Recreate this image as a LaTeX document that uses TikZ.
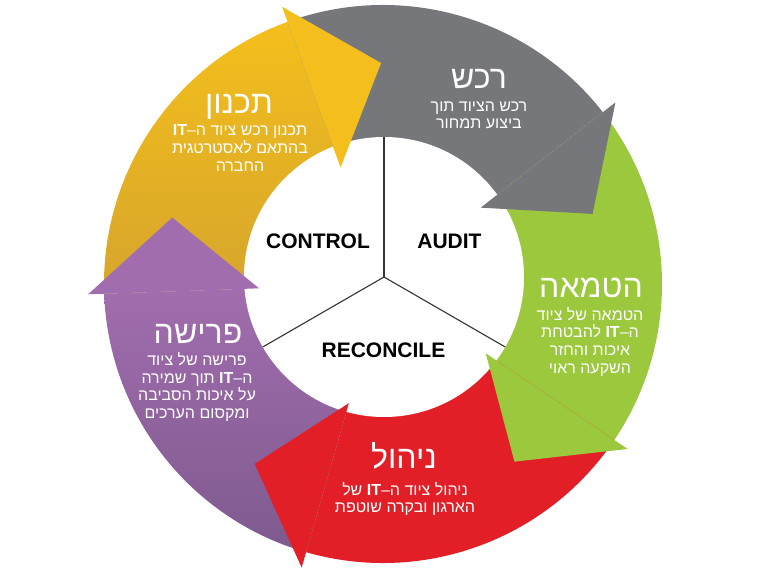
\documentclass[tikz,border=0pt]{standalone}
\usepackage{fontspec}
\setmainfont{Liberation Sans}
\newfontfamily\hebfont[Script=Hebrew]{Liberation Sans}
\TeXXeTstate=1
\definecolor{tichnun}{HTML}{F4BF1C}
\definecolor{tichnunosc}{HTML}{D6A52C}
\definecolor{rekesh}{HTML}{76777A}
\definecolor{hatmaa}{HTML}{9BC83C}
\definecolor{nihul}{HTML}{E21F27}
\definecolor{prisha}{HTML}{A16DAE}
\definecolor{prishaosc}{HTML}{7E5A8E}
\definecolor{linea}{HTML}{333333}
\newcommand{\heb}[1]{\beginR #1\endR}
\newcommand{\lat}[1]{\beginL\textbf{#1}\endL}
\tikzset{
  etapatit/.style={font=\hebfont\fontsize{32}{34}\selectfont, text=white, anchor=base, inner sep=0pt},
  etapatxt/.style={font=\hebfont\fontsize{16}{17.6}\selectfont, text=white, align=center, inner sep=0pt},
  sector/.style={font=\bfseries\fontsize{21}{24}\selectfont, text=black, inner sep=0pt},
  divisor/.style={draw=linea, line width=1.1pt},
  centro/.style={circle, fill=white, minimum size=280pt, inner sep=0pt, outer sep=0pt}
}

\begin{document}
\begin{tikzpicture}[x=1pt, y=1pt]
  \useasboundingbox (-383,-292) rectangle (385,284);
  % bandas del anillo
  \shade[top color=tichnun, middle color=tichnun, bottom color=tichnunosc] (182:279) arc[start angle=182, end angle=110, radius=279] -- (110:130) arc[start angle=110, end angle=182, radius=130] -- cycle;
  \fill[rekesh] (110:279) arc[start angle=110, end angle=38, radius=279] -- (38:130) arc[start angle=38, end angle=110, radius=130] -- cycle;
  \fill[hatmaa] (38:279) arc[start angle=38, end angle=-34, radius=279] -- (-34:130) arc[start angle=-34, end angle=38, radius=130] -- cycle;
  \fill[nihul] (-34:279) arc[start angle=-34, end angle=-106, radius=279] -- (-106:130) arc[start angle=-106, end angle=-34, radius=130] -- cycle;
  \shade[top color=prisha, bottom color=prishaosc] (-106:279) arc[start angle=-106, end angle=-178, radius=279] -- (-178:130) arc[start angle=-178, end angle=-106, radius=130] -- cycle;
  % centro
  \node (centro) [centro] at (1,7) {};
  \draw [divisor] (centro.center) -- (centro.north);
  \draw [divisor] (centro.center) -- (centro.210);
  \draw [divisor] (centro.center) -- (centro.330);
  % puntas
  \fill[tichnun] (110:124) -- (110:295) -- (90.5:221) -- cycle;
  \fill[rekesh] (38:124) -- (38:295) -- (18.5:221) -- cycle;
  \fill[hatmaa] (-34:124) -- (-34:295) -- (-53.5:221) -- cycle;
  \fill[nihul] (-106:124) -- (-106:295) -- (-125.5:221) -- cycle;
  \fill[prisha] (182:124) -- (182:295) -- (162.5:221) -- cycle;
  % textos
  \node (control) [sector] at (-65,42.5) {CONTROL};
  \node (audit) [sector] at (66.5,42.5) {AUDIT};
  \node (reconcile) [sector] at (0.5,-66) {RECONCILE};
  \node (tRekesh) [etapatit] at (96,195) {\heb{רכש}};
  \node (bRekesh) [etapatxt] at (96,168.5) {\heb{רכש הציוד תוך}\\\heb{ביצוע תמחור}};
  \node (tTichnun) [etapatit] at (-144,171) {\heb{תכנון}};
  \node (bTichnun) [etapatxt] at (-143,136) {\heb{תכנון רכש ציוד ה–\lat{IT}}\\\heb{בהתאם לאסטרטגית}\\\heb{החברה}};
  \node (tHatmaa) [etapatit] at (208,-13) {\heb{הטמאה}};
  \node (bHatmaa) [etapatxt] at (207,-57.75) {\heb{הטמאה של ציוד}\\\heb{ה–\lat{IT} להבטחת}\\\heb{איכות והחזר}\\\heb{השקעה ראוי}};
  \node (tPrisha) [etapatit] at (-185,-59) {\heb{פרישה}};
  \node (bPrisha) [etapatxt] at (-186,-103) {\heb{פרישה של ציוד}\\\heb{ה–\lat{IT} תוך שמירה}\\\heb{על איכות הסביבה}\\\heb{ומקסום הערכים}};
  \node (tNihul) [etapatit] at (21,-184) {\heb{ניהול}};
  \node (bNihul) [etapatxt] at (22,-215) {\heb{ניהול ציוד ה–\lat{IT} של}\\\heb{הארגון ובקרה שוטפת}};
\end{tikzpicture}
\end{document}
